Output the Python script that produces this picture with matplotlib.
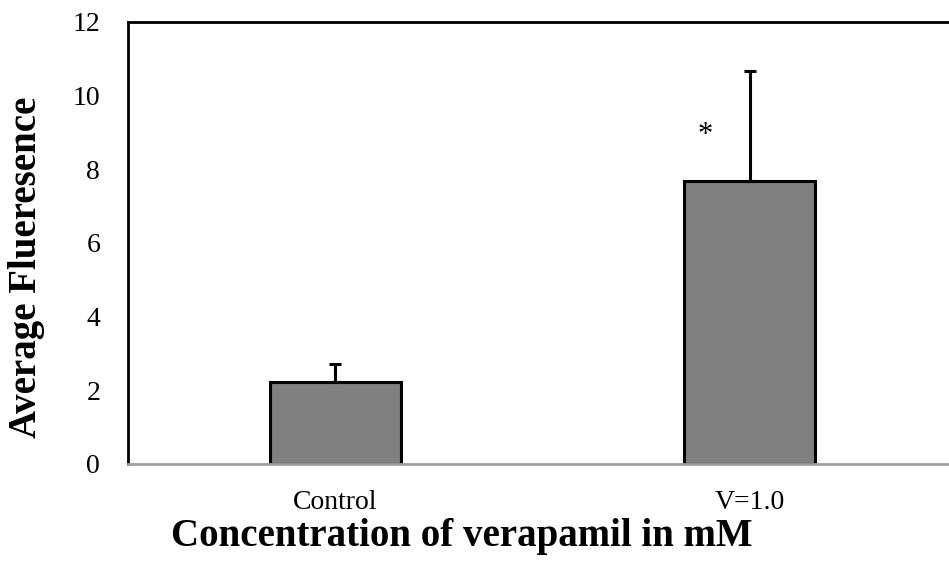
import matplotlib
matplotlib.use("Agg")
import matplotlib.pyplot as plt

categories = ["Control", "V=1.0"]
means = [2.22, 7.68]
errors = [0.5, 2.98]
yticks = [0, 2, 4, 6, 8, 10, 12]
star_label = "*"
star_y = 8.92

plt.rcParams['font.family'] = ['Liberation Serif', 'DejaVu Serif']

fig = plt.figure(figsize=(9.49, 5.65), dpi=100)
ax = fig.add_axes([0.1349, 0.1788, 0.8735, 0.7823])

x = list(range(len(categories)))
ax.bar(x, means, width=0.316, color="#808080", edgecolor="black", linewidth=2.2, zorder=2)
ax.errorbar(x, means, yerr=[[0] * len(errors), errors], fmt="none", ecolor="black",
            elinewidth=2.2, capsize=4.3, capthick=2.2, zorder=3)
ax.text(x[1] - 0.108, star_y, star_label, ha="center", va="center", fontsize=22)

ax.set_xlim(-0.5, 1.5)
ax.set_ylim(0, 12)
ax.set_yticks(yticks)
ax.set_xticks(x)
ax.set_xticklabels(categories)
ax.tick_params(axis="both", length=0, labelsize=20)
ax.tick_params(axis="y", pad=20)
ax.tick_params(axis="x", pad=19)

for s in ["left", "top", "right"]:
    ax.spines[s].set_linewidth(2)
    ax.spines[s].set_color("black")
ax.spines["bottom"].set_color("#a0a0a0")
ax.spines["bottom"].set_linewidth(2)

ax.set_xlabel("Concentration of verapamil in mM", fontsize=28, fontweight="bold")
ax.xaxis.set_label_coords(0.403, -0.122)
ax.set_ylabel("Average Flueresence", fontsize=28, fontweight="bold")
ax.yaxis.set_label_coords(-0.100, 0.446)

fig.savefig("out.png", dpi=100)
